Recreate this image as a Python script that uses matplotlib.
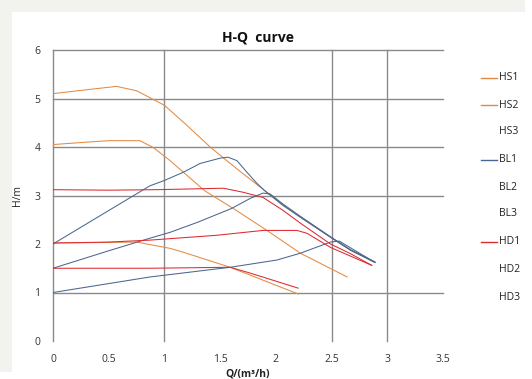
import matplotlib
matplotlib.use("Agg")
import matplotlib.pyplot as plt
from matplotlib.lines import Line2D
from matplotlib.patches import Rectangle

plt.rcParams['font.family'] = ['Open Sans', 'DejaVu Sans']

# ---- data ----
HS1_q = [0, 0.3, 0.57, 0.75, 0.9, 1.0, 1.2, 1.41, 1.65, 1.9, 2.06, 2.22, 2.49, 2.67, 2.88]
HS1_h = [5.1, 5.18, 5.25, 5.16, 4.98, 4.86, 4.45, 4.0, 3.55, 3.1, 2.82, 2.56, 2.14, 1.88, 1.63]
HS2_q = [0, 0.3, 0.5, 0.78, 0.9, 1.05, 1.36, 1.62, 1.92, 2.22, 2.64]
HS2_h = [4.05, 4.1, 4.13, 4.13, 3.99, 3.72, 3.1, 2.73, 2.28, 1.81, 1.32]
HS3_q = [0, 0.4, 0.75, 1.05, 1.17, 1.59, 2.2]
HS3_h = [2.02, 2.03, 2.04, 1.91, 1.83, 1.52, 0.97]

BL1_q = [0, 0.5, 0.87, 1.0, 1.17, 1.32, 1.5, 1.57, 1.65, 1.74, 1.83, 1.9, 2.06, 2.22, 2.49, 2.67, 2.89]
BL1_h = [2.0, 2.69, 3.2, 3.31, 3.48, 3.66, 3.77, 3.79, 3.72, 3.48, 3.25, 3.1, 2.8, 2.55, 2.14, 1.87, 1.62]
BL2_q = [0, 0.5, 0.87, 1.05, 1.3, 1.6, 1.77, 1.885, 1.95, 2.06, 2.22, 2.49, 2.67, 2.89]
BL2_h = [1.5, 1.86, 2.12, 2.24, 2.45, 2.73, 2.94, 3.05, 3.03, 2.83, 2.57, 2.15, 1.88, 1.63]
BL3_q = [0, 0.87, 1.59, 2.01, 2.22, 2.49, 2.57, 2.7, 2.89]
BL3_h = [1.0, 1.32, 1.52, 1.67, 1.81, 2.04, 2.06, 1.88, 1.62]

HD1_q = [0, 0.5, 0.93, 1.53, 1.7, 1.885, 2.06, 2.22, 2.49, 2.67, 2.86]
HD1_h = [3.12, 3.11, 3.12, 3.15, 3.07, 2.96, 2.7, 2.43, 2.0, 1.8, 1.56]
HD2_q = [0, 0.5, 0.87, 1.47, 1.885, 2.19, 2.28, 2.49, 2.67, 2.86]
HD2_h = [2.02, 2.04, 2.08, 2.18, 2.28, 2.28, 2.22, 1.93, 1.75, 1.56]
HD3_q = [0, 0.87, 1.59, 1.77, 2.2]
HD3_h = [1.5, 1.5, 1.52, 1.4, 1.09]

legend_labels = ['HS1', 'HS2', 'HS3', 'BL1', 'BL2', 'BL3', 'HD1', 'HD2', 'HD3']
x_ticks = [0, 0.5, 1, 1.5, 2, 2.5, 3, 3.5]
x_tick_labels = ['0', '0.5', '1', '1.5', '2', '2.5', '3', '3.5']
y_ticks = [0, 1, 2, 3, 4, 5, 6]
h_grid = [1, 3, 4, 5, 6]
v_grid = [0, 1, 2.5, 3]

ORANGE = '#E38A42'
BLUE = '#4A6690'
RED = '#DC2A30'
GRID = '#8A8A8A'

W, H = 532, 379
fig = plt.figure(figsize=(W / 100, H / 100), dpi=100, facecolor='white')

# light gray screenshot border (top and left)
fig.add_artist(Rectangle((0, 1 - 12 / H), 525 / W, 12 / H, transform=fig.transFigure,
                         facecolor='#F2F2EF', edgecolor='none', zorder=-5))
fig.add_artist(Rectangle((0, 1 - 372 / H), 12 / W, 360 / H, transform=fig.transFigure,
                         facecolor='#F2F2EF', edgecolor='none', zorder=-5))

ax = fig.add_axes([53 / W, 1 - 341 / H, (443 - 53) / W, (341 - 50) / H])
ax.set_xlim(0, 3.5)
ax.set_ylim(0, 6)
for s in ax.spines.values():
    s.set_visible(False)

for y in h_grid:
    ax.plot([0, 3.5], [y, y], color=GRID, lw=1.0, zorder=1, clip_on=False)
for x in v_grid:
    ax.plot([x, x], [0, 6], color=GRID, lw=1.0, zorder=1, clip_on=False)

lw = 0.75
ax.plot(HS1_q, HS1_h, color=ORANGE, lw=lw, zorder=3)
ax.plot(HS2_q, HS2_h, color=ORANGE, lw=lw, zorder=3)
ax.plot(HS3_q, HS3_h, color=ORANGE, lw=lw, zorder=3)
ax.plot(BL1_q, BL1_h, color=BLUE, lw=lw, zorder=3)
ax.plot(BL2_q, BL2_h, color=BLUE, lw=lw, zorder=3)
ax.plot(BL3_q, BL3_h, color=BLUE, lw=lw, zorder=3)
ax.plot(HD1_q, HD1_h, color=RED, lw=lw, zorder=3)
ax.plot(HD2_q, HD2_h, color=RED, lw=lw, zorder=3)
ax.plot(HD3_q, HD3_h, color=RED, lw=lw, zorder=3)

ax.set_xticks(x_ticks)
ax.set_xticklabels(x_tick_labels)
ax.set_yticks(y_ticks)
ax.tick_params(length=0, labelsize=7.5, labelcolor='#333333')
ax.tick_params(axis='x', pad=9)
ax.tick_params(axis='y', pad=9)

ax.set_xlabel('Q/(m³/h)', fontsize=7.5, fontweight='bold', labelpad=3, color='#222222')
ax.set_ylabel('H/m', fontsize=7.5, labelpad=8, color='#222222')

fig.text(258 / W, 1 - 38 / H, 'H-Q  curve', ha='center', va='center',
         fontsize=10, fontweight='bold', color='#111111')

# legend
leg_colors = [ORANGE, ORANGE, None, BLUE, None, None, RED, None, None]
leg_y = [78, 105, 132, 160, 187, 214, 242, 269, 297]
for lab, c, yy in zip(legend_labels, leg_colors, leg_y):
    yf = 1 - yy / H
    if c is not None:
        fig.add_artist(Line2D([481 / W, 497 / W], [yf, yf], transform=fig.transFigure,
                              color=c, lw=1.0))
    fig.text(499 / W, yf, lab, ha='left', va='center', fontsize=7.5, color='#222222')

fig.savefig('out.png', dpi=100, facecolor='white')
